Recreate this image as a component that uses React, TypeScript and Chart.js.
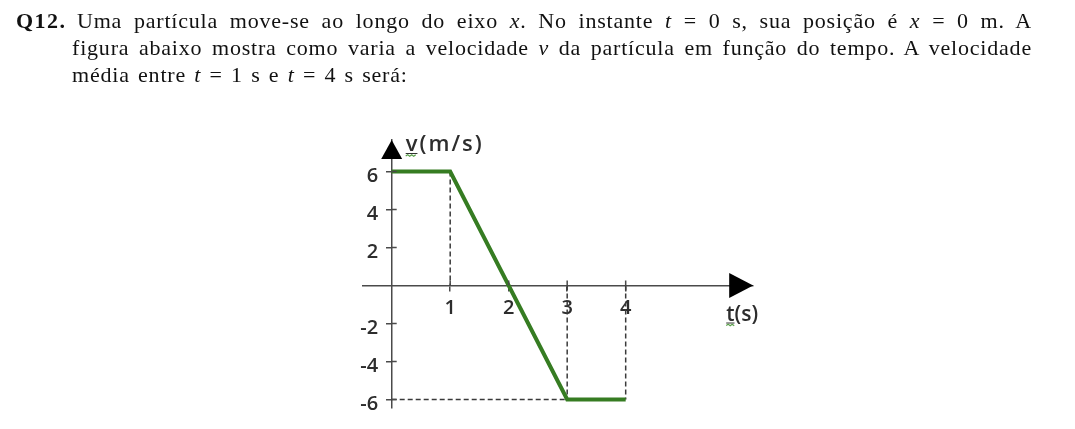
import React, { useEffect, useRef } from 'react';
import { Chart, registerables } from 'chart.js';

Chart.register(...registerables);

// ---- data ----
const times = [0, 1, 3, 4];
const velocities = [6, 6, -6, -6];
const timeTicks = [1, 2, 3, 4];
const velocityTicks = [6, 4, 2, -2, -4, -6];
// dashed guide lines (t, v) pairs
const guideT1 = [{ x: 1, y: 6 }, { x: 1, y: 0 }];
const guideVmin = [{ x: 0, y: -6 }, { x: 3, y: -6 }];
const guideT3 = [{ x: 3, y: 0 }, { x: 3, y: -6 }];
const guideT4 = [{ x: 4, y: 0 }, { x: 4, y: -6 }];
const yAxisTitle = 'v(m/s)';
const xAxisTitle = 't(s)';

const GREEN = '#367c22';
const DASH = '#3a3a3a';
const AXIS = '#4a4a4a';
const LABEL_COLOR = '#2d2d2d';
const LABEL_FONT = '"Open Sans", "Noto Sans", sans-serif';

const tickLen = 5;

const decorPlugin = {
  id: 'decor',
  afterDraw(chart: any) {
    const ctx = chart.ctx as CanvasRenderingContext2D;
    const xs = chart.scales.x;
    const ys = chart.scales.y;
    const ox = xs.getPixelForValue(0);
    const oy = ys.getPixelForValue(0);
    const { top, right } = chart.chartArea;
    ctx.save();
    // inner half of crossing tick marks
    ctx.strokeStyle = AXIS;
    ctx.lineWidth = 1.5;
    ctx.beginPath();
    for (const v of velocityTicks) {
      const y = ys.getPixelForValue(v);
      ctx.moveTo(ox, y);
      ctx.lineTo(ox + tickLen, y);
    }
    for (const t of timeTicks) {
      const x = xs.getPixelForValue(t);
      ctx.moveTo(x, oy);
      ctx.lineTo(x, oy - tickLen);
    }
    ctx.stroke();
    // arrows
    ctx.fillStyle = '#000';
    ctx.beginPath();
    ctx.moveTo(ox, top);
    ctx.lineTo(ox - 10.5, top + 19);
    ctx.lineTo(ox + 10.5, top + 19);
    ctx.closePath();
    ctx.fill();
    ctx.beginPath();
    ctx.moveTo(right, oy);
    ctx.lineTo(right - 24, oy - 12.5);
    ctx.lineTo(right - 24, oy + 12.5);
    ctx.closePath();
    ctx.fill();
    // axis titles
    ctx.fillStyle = LABEL_COLOR;
    ctx.textBaseline = 'middle';
    ctx.textAlign = 'left';
    ctx.font = `600 22px ${LABEL_FONT}`;
    (ctx as any).letterSpacing = '2px';
    const vx = ox + 14;
    const vy = top + 5;
    ctx.fillText(yAxisTitle, vx, vy);
    const vw = ctx.measureText(yAxisTitle[0]).width;
    ctx.font = `600 21px ${LABEL_FONT}`;
    (ctx as any).letterSpacing = '0px';
    const tx = right - 27;
    const ty = oy + 29;
    ctx.fillText(xAxisTitle, tx, ty);
    const tw = ctx.measureText(xAxisTitle[0]).width;
    // spell-check style underline marks
    const squiggle = (x0: number, w: number, y: number) => {
      ctx.strokeStyle = '#333';
      ctx.lineWidth = 1;
      ctx.beginPath();
      ctx.moveTo(x0, y - 1.5);
      ctx.lineTo(x0 + w, y - 1.5);
      ctx.stroke();
      ctx.strokeStyle = '#5aa04a';
      ctx.lineWidth = 1.2;
      ctx.beginPath();
      let up = true;
      ctx.moveTo(x0, y + 1);
      for (let x = x0 + 2; x <= x0 + w + 0.1; x += 2) {
        ctx.lineTo(x, up ? y - 0.2 : y + 1.2);
        up = !up;
      }
      ctx.stroke();
    };
    squiggle(vx, vw - 2, vy + 10);
    squiggle(tx, tw, ty + 10);
    ctx.restore();
  },
};

const X_MIN = -0.5;
const X_MAX = 6.18;
const Y_MIN = -6.45;
const Y_MAX = 7.66;
const Y_LABEL_AT = -0.23; // t-value where the y tick labels end

export default function App() {
  const canvasRef = useRef<HTMLCanvasElement>(null);

  useEffect(() => {
    const canvas = canvasRef.current!;
    const tickFont = { family: LABEL_FONT, size: 20, weight: 600 as any };
    const setYTicks = (s: any) => {
      s.ticks = velocityTicks.map((v) => ({ value: v }));
    };
    const chart = new Chart(canvas, {
      type: 'line',
      data: {
        datasets: [
          {
            data: times.map((t, i) => ({ x: t, y: velocities[i] })),
            borderColor: GREEN,
            borderWidth: 4,
            pointRadius: 0,
            borderJoinStyle: 'miter',
            borderCapStyle: 'butt',
            tension: 0,
            fill: false,
          },
          ...[guideT1, guideVmin, guideT3, guideT4].map((g) => ({
            data: g,
            borderColor: DASH,
            borderWidth: 1.5,
            borderDash: [5, 3],
            pointRadius: 0,
            fill: false,
          })),
        ],
      },
      options: {
        responsive: false,
        animation: false,
        devicePixelRatio: 1,
        layout: {
          padding: { left: 362.45, right: 1075 - 753.2, top: 140, bottom: 429 - 408.05 },
        },
        plugins: { legend: { display: false }, tooltip: { enabled: false } },
        scales: {
          x: {
            type: 'linear',
            min: X_MIN,
            max: X_MAX,
            position: { y: 0 } as any,
            afterFit: (s: any) => {
              s.height = 0;
            },
            afterBuildTicks: (s: any) => {
              s.ticks = timeTicks.map((v) => ({ value: v }));
            },
            grid: { display: true, drawOnChartArea: false, drawTicks: true, tickLength: tickLen, color: AXIS, lineWidth: 1.5 },
            border: { display: true, color: AXIS, width: 1.5 },
            ticks: { font: tickFont, color: LABEL_COLOR, padding: 6, maxRotation: 0, autoSkip: false },
          },
          y: {
            type: 'linear',
            min: Y_MIN,
            max: Y_MAX,
            position: { x: 0 } as any,
            afterFit: (s: any) => {
              s.width = 0;
            },
            afterBuildTicks: setYTicks,
            grid: { display: true, drawOnChartArea: false, drawTicks: true, tickLength: tickLen, color: AXIS, lineWidth: 1.5 },
            border: { display: true, color: AXIS, width: 1.5 },
            ticks: { display: false },
          },
          yLabels: {
            type: 'linear',
            min: Y_MIN,
            max: Y_MAX,
            position: { x: Y_LABEL_AT } as any,
            afterFit: (s: any) => {
              s.width = 0;
            },
            afterBuildTicks: setYTicks,
            grid: { display: false },
            border: { display: false },
            ticks: { font: tickFont, color: LABEL_COLOR, labelOffset: 5, autoSkip: false },
          },
        },
      },
      plugins: [decorPlugin],
    });
    return () => chart.destroy();
  }, []);

  const textFont: React.CSSProperties = {
    fontFamily: '"Liberation Serif", "DejaVu Serif", serif',
    fontSize: '22px',
    lineHeight: '27px',
    letterSpacing: '0.8px',
    wordSpacing: '2px',
    color: '#111',
    position: 'absolute',
    whiteSpace: 'normal',
  };
  const justified: React.CSSProperties = { textAlign: 'justify', textAlignLast: 'justify' as any };

  return (
    <div style={{ position: 'absolute', left: 0, top: 0, width: 1075, height: 429, background: '#fff', overflow: 'hidden' }}>
      <canvas ref={canvasRef} width={1075} height={429} style={{ position: 'absolute', left: 0, top: 0 }} />
      <div style={{ ...textFont, left: 16, top: 7.1, fontWeight: 'bold', letterSpacing: '1.5px' }}>Q12.</div>
      <div style={{ ...textFont, ...justified, left: 77, top: 7.1, width: 955 }}>
        Uma partícula move-se ao longo do eixo <i>x</i>. No instante <i>t</i> = 0 s, sua posição é <i>x</i> = 0 m. A
      </div>
      <div style={{ ...textFont, ...justified, left: 72, top: 34.1, width: 960 }}>
        figura abaixo mostra como varia a velocidade <i>v</i> da partícula em função do tempo. A velocidade
      </div>
      <div style={{ ...textFont, left: 72, top: 61.1, width: 960 }}>
        média entre <i>t</i> = 1 s e <i>t</i> = 4 s será:
      </div>
    </div>
  );
}
